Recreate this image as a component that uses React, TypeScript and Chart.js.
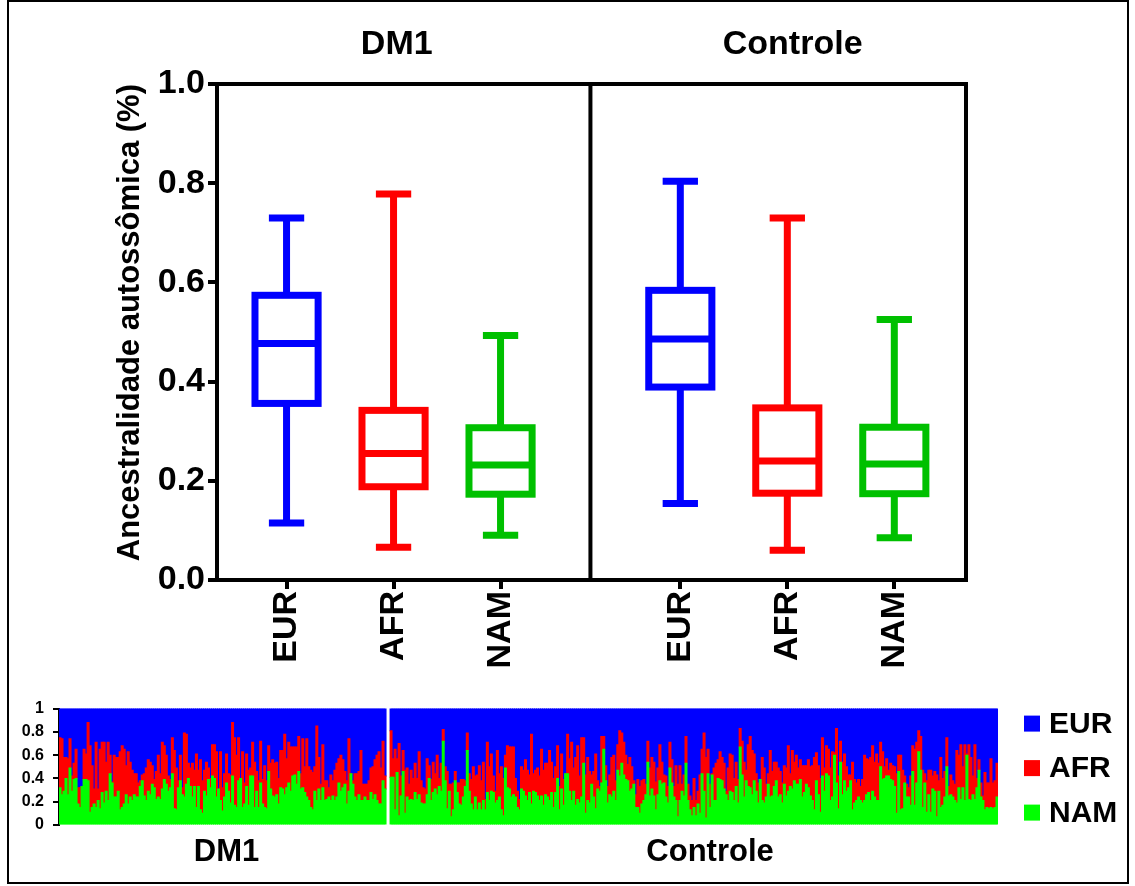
import React, { useEffect, useRef } from "react";
import { Chart, registerables } from "chart.js";

Chart.register(...registerables);

const FONT = "'Liberation Sans', Arial, Helvetica, sans-serif";

const populations = ["EUR", "AFR", "NAM"];
const groups = ["DM1", "Controle"];

// Five-number summaries per population: [min, Q1, median, Q3, max]
const dm1EUR = [0.115, 0.356, 0.477, 0.574, 0.73];
const dm1AFR = [0.066, 0.188, 0.255, 0.342, 0.778];
const dm1NAM = [0.09, 0.173, 0.232, 0.307, 0.493];
const ctlEUR = [0.154, 0.389, 0.486, 0.584, 0.804];
const ctlAFR = [0.06, 0.175, 0.24, 0.347, 0.73];
const ctlNAM = [0.085, 0.174, 0.234, 0.308, 0.525];

// Individual ancestry proportions (structure plot); EUR is the remainder to 1
const namDM1 = [
  0.32, 0.26, 0.29, 0.4, 0.26, 0.49, 0.29, 0.39, 0.4, 0.18,
  0.15, 0.33, 0.39, 0.39, 0.38, 0.11, 0.15, 0.18, 0.15, 0.21,
  0.14, 0.28, 0.19, 0.29, 0.21, 0.44, 0.36, 0.24, 0.24, 0.29,
  0.13, 0.15, 0.18, 0.26, 0.18, 0.24, 0.21, 0.26, 0.24, 0.24,
  0.33, 0.38, 0.25, 0.21, 0.29, 0.26, 0.35, 0.32, 0.22, 0.24,
  0.22, 0.31, 0.39, 0.35, 0.29, 0.32, 0.44, 0.14, 0.13, 0.32,
  0.38, 0.26, 0.24, 0.35, 0.4, 0.33, 0.24, 0.33, 0.15, 0.33,
  0.13, 0.1, 0.29, 0.25, 0.39, 0.32, 0.42, 0.4, 0.24, 0.31,
  0.21,
  0.12, 0.24, 0.36, 0.29, 0.19, 0.42, 0.17, 0.15, 0.38, 0.4,
  0.15, 0.18, 0.33, 0.17, 0.42, 0.42, 0.15, 0.29, 0.15, 0.36,
  0.18, 0.15, 0.14, 0.46, 0.31, 0.25, 0.24, 0.26, 0.18, 0.32,
  0.31, 0.26, 0.32, 0.36, 0.29, 0.42, 0.43, 0.35, 0.46, 0.31,
  0.32, 0.28, 0.24, 0.21, 0.15, 0.13, 0.29, 0.21, 0.31, 0.21,
  0.32, 0.21, 0.22, 0.24, 0.21, 0.25, 0.21, 0.24, 0.36, 0.29,
  0.32, 0.35, 0.18, 0.29, 0.44, 0.35, 0.24, 0.21, 0.26, 0.21,
  0.21, 0.24, 0.21, 0.21, 0.28, 0.22, 0.26, 0.21, 0.18, 0.18,
  0.38, 0.31,
];
const afrDM1 = [
  0.43, 0.48, 0.29, 0.18, 0.31, 0.25, 0.13, 0.14, 0.25, 0.14,
  0.17, 0.0, 0.26, 0.22, 0.5, 0.57, 0.36, 0.13, 0.56, 0.1,
  0.51, 0.43, 0.52, 0.25, 0.5, 0.16, 0.01, 0.36, 0.34, 0.29,
  0.5, 0.53, 0.47, 0.25, 0.45, 0.3, 0.26, 0.18, 0.2, 0.12,
  0.05, 0.05, 0.19, 0.28, 0.27, 0.28, 0.16, 0.07, 0.24, 0.36,
  0.22, 0.4, 0.29, 0.25, 0.13, 0.07, 0.31, 0.5, 0.36, 0.06,
  0.22, 0.06, 0.55, 0.43, 0.13, 0.16, 0.29, 0.14, 0.46, 0.14,
  0.43, 0.28, 0.18, 0.29, 0.1, 0.08, 0.27, 0.29, 0.39, 0.0,
  0.42,
  0.2, 0.2, 0.25, 0.15, 0.24, 0.46, 0.58, 0.45, 0.37, 0.0,
  0.48, 0.18, 0.28, 0.3, 0.07, 0.29, 0.39, 0.17, 0.23, 0.36,
  0.21, 0.36, 0.24, 0.22, 0.22, 0.31, 0.29, 0.28, 0.22, 0.32,
  0.33, 0.52, 0.25, 0.35, 0.38, 0.25, 0.24, 0.32, 0.3, 0.13,
  0.42, 0.22, 0.5, 0.29, 0.32, 0.32, 0.21, 0.64, 0.27, 0.14,
  0.37, 0.17, 0.16, 0.08, 0.22, 0.13, 0.26, 0.29, 0.21, 0.31,
  0.24, 0.11, 0.2, 0.45, 0.0, 0.03, 0.2, 0.23, 0.2, 0.43,
  0.14, 0.11, 0.14, 0.17, 0.21, 0.28, 0.3, 0.39, 0.45, 0.31,
  0.34, 0.11,
];
const namControle = [
  0.41, 0.41, 0.13, 0.45, 0.08, 0.25, 0.46, 0.1, 0.24, 0.21,
  0.22, 0.21, 0.28, 0.22, 0.26, 0.19, 0.18, 0.18, 0.26, 0.4,
  0.21, 0.28, 0.31, 0.26, 0.33, 0.29, 0.72, 0.38, 0.14, 0.29,
  0.07, 0.13, 0.38, 0.28, 0.18, 0.17, 0.24, 0.33, 0.64, 0.29,
  0.18, 0.13, 0.24, 0.13, 0.19, 0.13, 0.21, 0.13, 0.28, 0.21,
  0.29, 0.28, 0.19, 0.21, 0.24, 0.13, 0.08, 0.49, 0.32, 0.31,
  0.24, 0.26, 0.24, 0.15, 0.13, 0.31, 0.29, 0.25, 0.21, 0.28,
  0.18, 0.29, 0.28, 0.25, 0.21, 0.25, 0.17, 0.26,
  0.24, 0.21, 0.28, 0.15, 0.28, 0.4, 0.13, 0.31, 0.17, 0.44,
  0.44, 0.29, 0.21, 0.29, 0.17, 0.22, 0.19, 0.24, 0.53, 0.1,
  0.21, 0.19, 0.35, 0.24, 0.14, 0.31, 0.29, 0.36, 0.65, 0.38,
  0.19, 0.26, 0.24, 0.29, 0.21, 0.47, 0.42, 0.53, 0.43, 0.39,
  0.38, 0.29, 0.31, 0.35, 0.15, 0.15, 0.1, 0.18, 0.21, 0.26,
  0.54, 0.25, 0.31, 0.25, 0.13, 0.26, 0.38, 0.35, 0.36, 0.24,
  0.19, 0.49, 0.36, 0.24, 0.21, 0.07, 0.21, 0.29, 0.25, 0.53,
  0.21, 0.13, 0.08, 0.15, 0.08, 0.18, 0.1,
  0.44, 0.29, 0.06, 0.44, 0.15, 0.43, 0.21, 0.21, 0.4, 0.39,
  0.38, 0.31, 0.26, 0.21, 0.29, 0.28, 0.21, 0.33, 0.19, 0.67,
  0.43, 0.24, 0.38, 0.33, 0.32, 0.26, 0.38, 0.29, 0.19, 0.39,
  0.21, 0.19, 0.24, 0.35, 0.24, 0.25, 0.33, 0.38, 0.24, 0.26,
  0.19, 0.35, 0.25, 0.29, 0.33, 0.31, 0.38, 0.35, 0.35, 0.39,
  0.24, 0.28, 0.35, 0.32, 0.25, 0.21, 0.13, 0.38, 0.26, 0.11,
  0.42, 0.29, 0.44, 0.42, 0.21, 0.24, 0.6, 0.36, 0.14, 0.54,
  0.26, 0.38, 0.29, 0.32, 0.38, 0.13, 0.19,
  0.21, 0.24, 0.21, 0.19, 0.21, 0.26, 0.28, 0.21, 0.29, 0.24,
  0.21, 0.21, 0.5, 0.39, 0.4, 0.42, 0.42, 0.39, 0.38, 0.33,
  0.1, 0.46, 0.13, 0.14, 0.36, 0.24, 0.24, 0.17, 0.46, 0.17,
  0.36, 0.63, 0.47, 0.15, 0.36, 0.11, 0.26, 0.11, 0.31, 0.29,
  0.07, 0.29, 0.15, 0.17, 0.24, 0.5, 0.25, 0.26, 0.24, 0.21,
  0.19, 0.32, 0.22, 0.32, 0.21, 0.6, 0.22, 0.21, 0.26, 0.22,
  0.32, 0.47, 0.24, 0.21, 0.13, 0.15, 0.14, 0.15, 0.14, 0.15,
  0.24,
];
const afrControle = [
  0.4, 0.16, 0.52, 0.12, 0.62, 0.17, 0.18, 0.37, 0.25, 0.14,
  0.25, 0.19, 0.25, 0.18, 0.37, 0.19, 0.14, 0.13, 0.31, 0.11,
  0.18, 0.26, 0.13, 0.34, 0.07, 0.24, 0.1, 0.12, 0.32, 0.06,
  0.28, 0.23, 0.08, 0.08, 0.18, 0.22, 0.15, 0.05, 0.15, 0.15,
  0.21, 0.37, 0.18, 0.3, 0.32, 0.25, 0.33, 0.09, 0.43, 0.29,
  0.32, 0.14, 0.1, 0.43, 0.2, 0.37, 0.32, 0.11, 0.36, 0.36,
  0.43, 0.41, 0.16, 0.14, 0.09, 0.19, 0.18, 0.31, 0.26, 0.15,
  0.6, 0.15, 0.19, 0.24, 0.21, 0.4, 0.3, 0.27,
  0.29, 0.43, 0.26, 0.25, 0.22, 0.28, 0.2, 0.3, 0.22, 0.0,
  0.34, 0.28, 0.5, 0.2, 0.41, 0.46, 0.23, 0.51, 0.22, 0.33,
  0.37, 0.27, 0.08, 0.22, 0.47, 0.07, 0.04, 0.4, 0.11, 0.13,
  0.14, 0.17, 0.34, 0.31, 0.17, 0.22, 0.39, 0.26, 0.28, 0.21,
  0.14, 0.29, 0.19, 0.03, 0.11, 0.24, 0.23, 0.2, 0.18, 0.09,
  0.18, 0.24, 0.27, 0.29, 0.24, 0.23, 0.31, 0.19, 0.07, 0.18,
  0.14, 0.22, 0.2, 0.09, 0.3, 0.28, 0.3, 0.06, 0.18, 0.23,
  0.14, 0.12, 0.13, 0.25, 0.13, 0.11, 0.33,
  0.21, 0.5, 0.52, 0.21, 0.2, 0.01, 0.28, 0.32, 0.16, 0.24,
  0.2, 0.22, 0.03, 0.28, 0.32, 0.32, 0.19, 0.21, 0.2, 0.16,
  0.29, 0.3, 0.09, 0.36, 0.44, 0.38, 0.23, 0.15, 0.17, 0.0,
  0.37, 0.3, 0.11, 0.09, 0.4, 0.21, 0.21, 0.16, 0.25, 0.2,
  0.17, 0.16, 0.24, 0.39, 0.11, 0.33, 0.16, 0.25, 0.14, 0.17,
  0.27, 0.23, 0.16, 0.24, 0.25, 0.3, 0.45, 0.24, 0.25, 0.29,
  0.33, 0.2, 0.24, 0.23, 0.28, 0.39, 0.02, 0.47, 0.28, 0.18,
  0.28, 0.23, 0.21, 0.11, 0.05, 0.41, 0.2,
  0.15, 0.15, 0.12, 0.2, 0.39, 0.31, 0.28, 0.37, 0.39, 0.3,
  0.4, 0.32, 0.21, 0.24, 0.1, 0.15, 0.05, 0.14, 0.13, 0.17,
  0.34, 0.14, 0.47, 0.33, 0.06, 0.11, 0.08, 0.25, 0.22, 0.48,
  0.35, 0.18, 0.29, 0.32, 0.08, 0.27, 0.21, 0.36, 0.11, 0.17,
  0.36, 0.09, 0.43, 0.23, 0.22, 0.25, 0.08, 0.17, 0.14, 0.14,
  0.45, 0.28, 0.47, 0.18, 0.48, 0.01, 0.47, 0.37, 0.16, 0.47,
  0.08, 0.09, 0.12, 0.04, 0.32, 0.21, 0.22, 0.42, 0.22, 0.23,
  0.29,
];

// Layout of the box-plot x axis (linear units)
const boxX = [0.65, 1.65, 2.65, 4.33, 5.33, 6.33];
const xTickLabels = [...populations, ...populations];
const panelSplit = 3.49;
const panelTitleX = [1.68, 5.38];
const BOX_HALF = 0.295;
const CAP_HALF = 0.165;

const boxColors = ["#0000ff", "#ff0000", "#00c000"];
const structColors = { NAM: "#00ff00", AFR: "#ff0000", EUR: "#0000ff" };

function BoxPanels() {
  const ref = useRef<HTMLCanvasElement>(null);
  useEffect(() => {
    const stats = [dm1EUR, dm1AFR, dm1NAM, ctlEUR, ctlAFR, ctlNAM];
    const datasets: any[] = stats.map((s, i) => ({
      label: `${groups[Math.floor(i / 3)]} ${populations[i % 3]}`,
      data: [{ x: boxX[i], y: s[2] }],
      stats: s,
      color: boxColors[i % 3],
      pointRadius: 0,
      pointHoverRadius: 0,
    }));

    // Box, median, whiskers and caps drawn from the five-number summaries
    const boxPlugin = {
      id: "boxes",
      afterDatasetsDraw(chart: any) {
        const { ctx } = chart;
        const x = chart.scales.x;
        const y = chart.scales.y;
        chart.data.datasets.forEach((ds: any) => {
          const pos = ds.data[0].x;
          const cx = x.getPixelForValue(pos);
          const hw = x.getPixelForValue(pos + BOX_HALF) - cx;
          const cap = x.getPixelForValue(pos + CAP_HALF) - cx;
          const [mn, q1, md, q3, mx] = ds.stats.map((v: number) => y.getPixelForValue(v));
          ctx.save();
          ctx.strokeStyle = ds.color;
          ctx.lineWidth = 7;
          ctx.lineJoin = "miter";
          ctx.lineCap = "butt";
          ctx.strokeRect(cx - hw, q3, 2 * hw, q1 - q3);
          ctx.beginPath();
          ctx.moveTo(cx - hw, md);
          ctx.lineTo(cx + hw, md);
          ctx.moveTo(cx, q3);
          ctx.lineTo(cx, mx);
          ctx.moveTo(cx, q1);
          ctx.lineTo(cx, mn);
          ctx.moveTo(cx - cap, mx);
          ctx.lineTo(cx + cap, mx);
          ctx.moveTo(cx - cap, mn);
          ctx.lineTo(cx + cap, mn);
          ctx.stroke();
          ctx.restore();
        });
      },
    };

    // Panel frame, divider between groups and group titles
    const framePlugin = {
      id: "frame",
      afterDraw(chart: any) {
        const { ctx, chartArea } = chart;
        const { left, right, top, bottom } = chartArea;
        const xs = chart.scales.x.getPixelForValue(panelSplit);
        ctx.save();
        ctx.strokeStyle = "#000";
        ctx.lineWidth = 4;
        ctx.beginPath();
        ctx.moveTo(left - 2, top);
        ctx.lineTo(right, top);
        ctx.lineTo(right, bottom + 2);
        ctx.moveTo(xs, top);
        ctx.lineTo(xs, bottom);
        ctx.stroke();
        ctx.fillStyle = "#000";
        ctx.font = `bold 34px ${FONT}`;
        ctx.textAlign = "center";
        ctx.textBaseline = "middle";
        groups.forEach((g, i) => {
          ctx.fillText(g, chart.scales.x.getPixelForValue(panelTitleX[i]), top - 39);
        });
        ctx.restore();
      },
    };

    const chart = new Chart(ref.current as HTMLCanvasElement, {
      type: "scatter",
      data: { datasets },
      options: {
        responsive: false,
        animation: false,
        events: [],
        layout: { padding: { left: 109, right: 169, top: 84, bottom: 10 } },
        plugins: { legend: { display: false }, tooltip: { enabled: false } },
        scales: {
          x: {
            type: "linear",
            min: 0,
            max: 7,
            afterBuildTicks: (s: any) => {
              s.ticks = boxX.map((v) => ({ value: v }));
            },
            ticks: {
              autoSkip: false,
              minRotation: 90,
              maxRotation: 90,
              padding: 2,
              color: "#000",
              font: { family: FONT, size: 34, weight: "bold" },
              callback: (_v: any, i: number) => xTickLabels[i],
            },
            grid: { drawOnChartArea: false, drawTicks: true, tickLength: 9, color: "#000", lineWidth: 4 },
            border: { display: true, color: "#000", width: 4 },
            afterFit: (s: any) => {
              s.height = 100;
            },
          },
          y: {
            min: 0,
            max: 1,
            ticks: {
              stepSize: 0.2,
              padding: 3,
              color: "#000",
              font: { family: FONT, size: 34, weight: "bold" },
              callback: (v: any) => Number(v).toFixed(1),
            },
            grid: { drawOnChartArea: false, drawTicks: true, tickLength: 9, color: "#000", lineWidth: 4 },
            border: { display: true, color: "#000", width: 4 },
            title: {
              display: true,
              text: "Ancestralidade autossômica (%)",
              align: "end",
              color: "#000",
              font: { family: FONT, size: 31, weight: "bold" },
              padding: { top: 3, bottom: 0 },
            },
            afterFit: (s: any) => {
              s.width = 108;
            },
          },
        },
      } as any,
      plugins: [boxPlugin, framePlugin],
    });
    return () => chart.destroy();
  }, []);
  return (
    <canvas
      ref={ref}
      width={1135}
      height={690}
      style={{ position: "absolute", left: 0, top: 0, width: 1135, height: 690 }}
    />
  );
}

function StructurePlot() {
  const ref = useRef<HTMLCanvasElement>(null);
  useEffect(() => {
    const gap = [null, null];
    const nam: (number | null)[] = [...namDM1, ...gap, ...namControle];
    const afr: (number | null)[] = [...afrDM1, ...gap, ...afrControle];
    const eur = nam.map((n, i) => (n === null ? null : Math.max(0, 1 - n - (afr[i] as number))));
    const labels = nam.map((_, i) => String(i + 1));
    const groupLabelIndex = [83, 324];

    // Legend stacked to the right of the plot
    const legendPlugin = {
      id: "structLegend",
      afterDraw(chart: any) {
        const { ctx, chartArea } = chart;
        const items = [...chart.data.datasets].reverse();
        ctx.save();
        ctx.font = `bold 30px ${FONT}`;
        ctx.textAlign = "left";
        ctx.textBaseline = "middle";
        items.forEach((ds: any, i: number) => {
          const cy = chartArea.top + 15 + i * 44.5;
          const x0 = chartArea.right + 26;
          ctx.fillStyle = ds.backgroundColor;
          ctx.fillRect(x0, cy - 8, 16, 16);
          ctx.fillStyle = "#000";
          ctx.fillText(ds.label, x0 + 25, cy + 1);
        });
        ctx.restore();
      },
    };

    const chart = new Chart(ref.current as HTMLCanvasElement, {
      type: "bar",
      data: {
        labels,
        datasets: [
          { label: "NAM", data: nam, backgroundColor: structColors.NAM },
          { label: "AFR", data: afr, backgroundColor: structColors.AFR },
          { label: "EUR", data: eur, backgroundColor: structColors.EUR },
        ],
      },
      options: {
        responsive: false,
        animation: false,
        events: [],
        datasets: {
          bar: { barPercentage: 1, categoryPercentage: 1, borderWidth: 0, inflateAmount: 0.5 },
        },
        layout: { padding: { left: 0, right: 137, top: 15, bottom: 21 } },
        plugins: { legend: { display: false }, tooltip: { enabled: false } },
        scales: {
          x: {
            stacked: true,
            grid: { display: false, drawTicks: false },
            border: { display: false },
            ticks: {
              autoSkip: false,
              minRotation: 0,
              maxRotation: 0,
              padding: 9,
              color: "#000",
              font: { family: FONT, size: 31, weight: "bold" },
              callback: (_v: any, i: number) =>
                i === groupLabelIndex[0] ? groups[0] : i === groupLabelIndex[1] ? groups[1] : "",
            },
            afterFit: (s: any) => {
              s.height = 40;
            },
          },
          y: {
            stacked: true,
            min: 0,
            max: 1,
            ticks: {
              stepSize: 0.2,
              padding: 9,
              color: "#000",
              font: { family: FONT, size: 16, weight: "bold" },
              callback: (v: any) => (v === 0 || v === 1 ? String(v) : Number(v).toFixed(1)),
            },
            grid: { drawOnChartArea: false, drawTicks: true, tickLength: 6, color: "#000", lineWidth: 2 },
            border: { display: true, color: "#000", width: 2 },
            afterFit: (s: any) => {
              s.width = 59;
            },
          },
        },
      } as any,
      plugins: [legendPlugin],
    });
    return () => chart.destroy();
  }, []);
  return (
    <canvas
      ref={ref}
      width={1135}
      height={196}
      style={{ position: "absolute", left: 0, top: 690, width: 1135, height: 196 }}
    />
  );
}

export default function App() {
  return (
    <div
      style={{
        position: "absolute",
        left: 0,
        top: 0,
        width: 1135,
        height: 886,
        background: "#fff",
        overflow: "hidden",
      }}
    >
      <div
        style={{
          position: "absolute",
          left: 7,
          top: 0,
          width: 1122,
          height: 884,
          border: "2px solid #000",
          boxSizing: "border-box",
        }}
      />
      <BoxPanels />
      <StructurePlot />
    </div>
  );
}
